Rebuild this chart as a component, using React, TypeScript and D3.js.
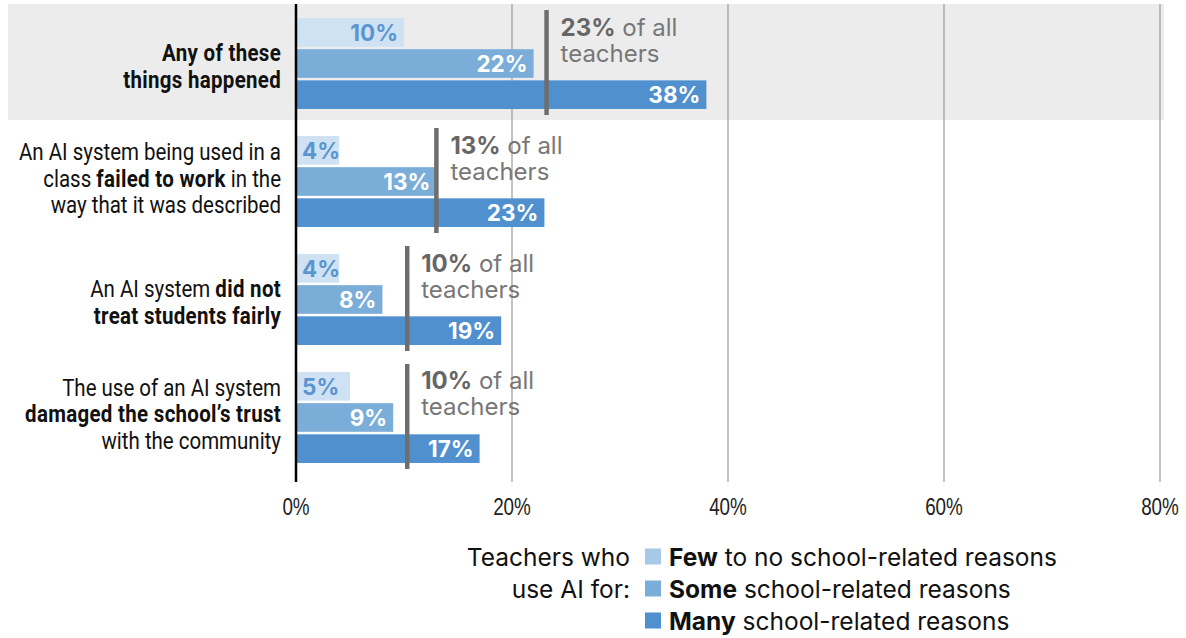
import React from "react";
import * as d3 from "d3";

// ---- data ----
const categoryLabels: string[][] = [
  ["**Any of these**", "**things happened**"],
  ["An AI system being used in a", "class **failed to work** in the", "way that it was described"],
  ["An AI system **did not**", "**treat students fairly**"],
  ["The use of an AI system", "**damaged the school’s trust**", "with the community"],
];
const seriesKeys = ["few", "some", "many"];
const seriesLegend = [
  ["Few", " to no school-related reasons"],
  ["Some", " school-related reasons"],
  ["Many", " school-related reasons"],
];
const fewValues = [10, 4, 4, 5];
const someValues = [22, 13, 8, 9];
const manyValues = [38, 23, 19, 17];
const allTeachers = [23.2, 13, 10.3, 10.3];
const tickValues = [0, 20, 40, 60, 80];
const legendTitle = ["Teachers who", "use AI for:"];

const seriesValues = [fewValues, someValues, manyValues];
const barColors = ["#cfe2f3", "#7badd9", "#5090cf"];
const legendColors = ["#a8c8e8", "#7badd9", "#5090cf"];
const labelColors = ["#5b95d0", "#ffffff", "#ffffff"];

const parseRich = (s: string) =>
  s.split("**").map((t, i) => ({ text: t, bold: i % 2 === 1 })).filter((d) => d.text.length > 0);

export default function App() {
  const W = 1186;
  const H = 638;
  const x = d3.scaleLinear().domain([0, 80]).range([296, 1160]);
  const outer = d3
    .scaleBand<number>()
    .domain(d3.range(categoryLabels.length))
    .range([4, 477])
    .paddingInner(0.229)
    .paddingOuter(0.119);
  const inner = d3.scaleBand<string>().domain(seriesKeys).range([0, outer.bandwidth()]).paddingInner(0.08);
  const lineH = 26.7;
  const gridTop = 4;
  const gridBottom = 482;
  const catFont = "Roboto, 'Noto Sans', sans-serif";
  const numFont = "Inter, Roboto, sans-serif";

  return (
    <svg
      width={W}
      height={H}
      style={{ position: "absolute", left: 0, top: 0, display: "block", background: "#fff" }}
    >
      {/* highlight background for first group */}
      <rect
        x={8}
        y={gridTop}
        width={1164 - 8}
        height={(outer(0) as number) + outer.bandwidth() + 11 - gridTop}
        fill="#ececec"
      />
      {/* gridlines */}
      {tickValues
        .filter((t) => t !== 0)
        .map((t) => (
          <line key={t} x1={x(t)} x2={x(t)} y1={gridTop} y2={gridBottom} stroke="#9a9a9a" strokeWidth={1.2} />
        ))}
      {/* bars */}
      {categoryLabels.map((_, ci) => {
        const y0 = outer(ci) as number;
        return (
          <g key={ci}>
            {seriesKeys.map((k, si) => {
              const v = seriesValues[si][ci];
              const by = y0 + (inner(k) as number);
              const bh = inner.bandwidth();
              const narrow = x(v) - x(0) < 60;
              return (
                <g key={k}>
                  <rect x={x(0)} y={by} width={x(v) - x(0)} height={bh} fill={barColors[si]} />
                  <text
                    x={narrow ? x(0) + 6 : x(v) - 6}
                    y={by + bh / 2 + 8.5}
                    textAnchor={narrow ? "start" : "end"}
                    fontFamily={numFont}
                    fontWeight={700}
                    fontSize={22.5}
                    fill={labelColors[si]}
                  >
                    {`${v}%`}
                  </text>
                </g>
              );
            })}
          </g>
        );
      })}
      {/* axis line */}
      <line x1={x(0)} x2={x(0)} y1={gridTop} y2={gridBottom} stroke="#000" strokeWidth={2.5} />
      {/* reference lines + annotations */}
      {allTeachers.map((v, ci) => {
        const y0 = outer(ci) as number;
        const xv = x(v);
        return (
          <g key={ci}>
            <line x1={xv} x2={xv} y1={y0 - 8} y2={y0 + outer.bandwidth() + 6} stroke="#6e6e6e" strokeWidth={4.5} />
            <text x={xv + 14} y={y0 + 17.5} fontFamily={numFont} fontSize={24} fill="#777">
              <tspan fontWeight={700} fill="#666">{`${Math.round(v)}%`}</tspan>
              <tspan> of all</tspan>
            </text>
            <text x={xv + 14} y={y0 + 43.5} fontFamily={numFont} fontSize={24} fill="#777">
              teachers
            </text>
          </g>
        );
      })}
      {/* category labels */}
      {categoryLabels.map((lines, ci) => {
        const center = (outer(ci) as number) + outer.bandwidth() / 2;
        const n = lines.length;
        const k = n === 2 ? 11 : 5;
        return (
          <g key={ci}>
            {lines.map((ln, li) => {
              const y = center + (li - (n - 1) / 2) * lineH + k;
              return (
                <text
                  key={li}
                  transform={`translate(281,${y}) scale(0.89,1)`}
                  textAnchor="end"
                  fontFamily={catFont}
                  fontSize={23}
                  fill="#111"
                >
                  {parseRich(ln).map((s, i) => (
                    <tspan key={i} fontWeight={s.bold ? 700 : 400} letterSpacing={s.bold ? 0.35 : 0}>
                      {s.text}
                    </tspan>
                  ))}
                </text>
              );
            })}
          </g>
        );
      })}
      {/* x tick labels */}
      {tickValues.map((t) => (
        <text
          key={t}
          transform={`translate(${x(t)},515) scale(0.82,1)`}
          textAnchor="middle"
          fontFamily="'Liberation Sans', Arial, sans-serif"
          fontSize={23}
          fill="#222"
        >
          {`${t}%`}
        </text>
      ))}
      {/* legend */}
      {legendTitle.map((t, i) => (
        <text key={i} x={630} y={566 + i * 32} textAnchor="end" fontFamily={numFont} fontSize={24.5} fill="#111">
          {t}
        </text>
      ))}
      {seriesLegend.map((s, i) => (
        <g key={i}>
          <rect x={645} y={548.5 + i * 32} width={16} height={16} fill={legendColors[i]} />
          <text x={669} y={566 + i * 32} fontFamily={numFont} fontSize={24.5} fill="#111">
            <tspan fontWeight={700}>{s[0]}</tspan>
            <tspan>{s[1]}</tspan>
          </text>
        </g>
      ))}
    </svg>
  );
}
